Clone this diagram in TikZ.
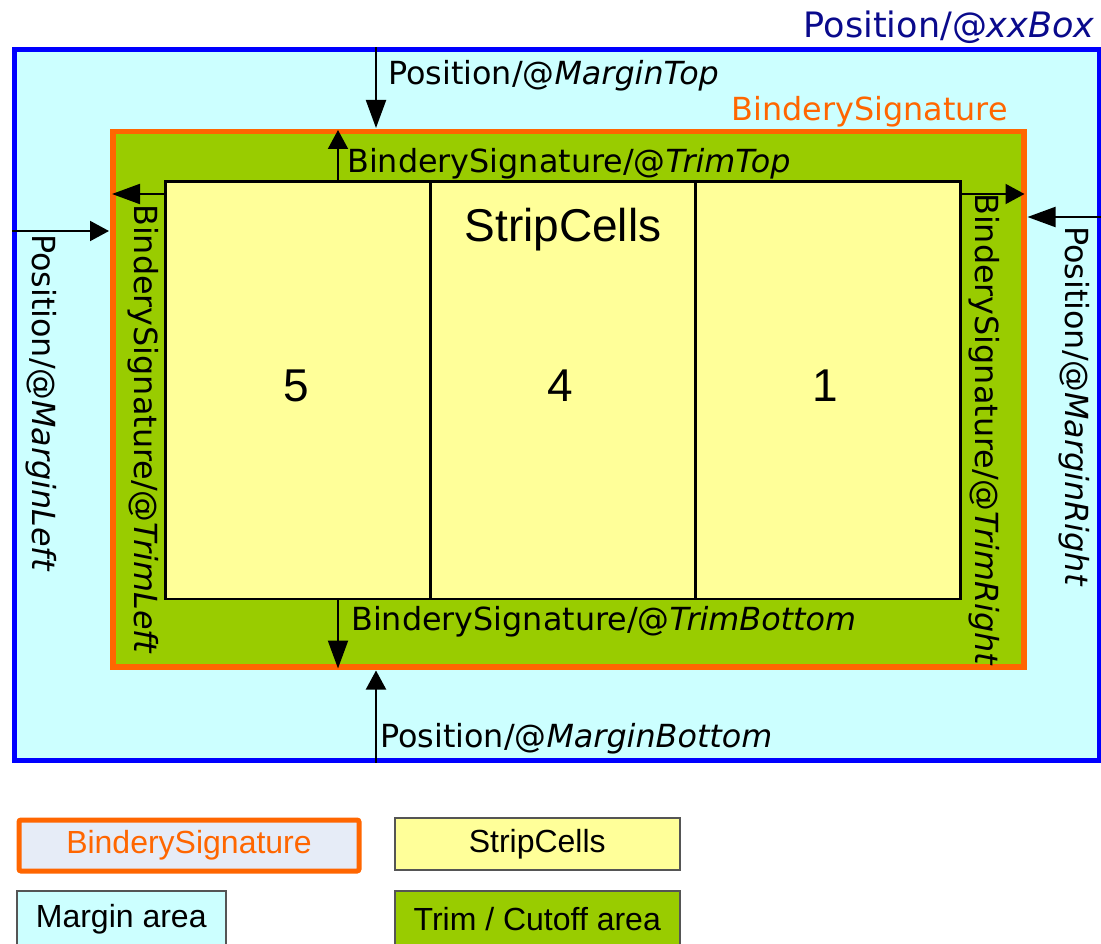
\documentclass[tikz,border=0pt]{standalone}
\usepackage{fontspec}
\setmainfont{DejaVu Sans}
\newfontfamily\arial{Liberation Sans}
\usetikzlibrary{arrows.meta}
\definecolor{mblue}{HTML}{0000FF}
\definecolor{mcyan}{HTML}{CCFFFF}
\definecolor{morange}{HTML}{FF6600}
\definecolor{mgreen}{HTML}{99CC00}
\definecolor{myellow}{HTML}{FFFF99}
\definecolor{mnavy}{HTML}{0A0A8C}
\definecolor{mlav}{HTML}{E6ECF7}
\definecolor{mgray}{HTML}{555555}
\begin{document}
\begin{tikzpicture}[x=1pt,y=-1pt,
  lbl/.style={font=\fontsize{31.8}{36}\selectfont, inner sep=0pt},
  dimlong/.style={line width=2pt, -{Triangle[length=28pt,width=20pt]}, shorten >=1pt},
  dimshort/.style={line width=2pt, -{Triangle[length=19pt,width=20pt]}, shorten >=1pt},
  cell/.style={draw=black, line width=2.5pt, fill=myellow, minimum width=265pt,
    minimum height=417pt, inner sep=0pt, anchor=north west},
  big/.style={font=\arial\fontsize{46}{50}\selectfont, inner sep=0pt},
  legbox/.style={draw=mgray, line width=1.5pt, minimum width=285pt, minimum height=52pt,
    inner sep=0pt, anchor=north west, font=\arial\fontsize{32}{36}\selectfont}]
\useasboundingbox (0,0) rectangle (1101,944);
\clip (0,0) rectangle (1101,944);
% outer position box
\node[draw=mblue, fill=mcyan, line width=5pt, minimum width=1085pt, minimum height=710pt,
  inner sep=0pt, anchor=north west] (box) at (12,47.5) {};
% bindery signature
\node[draw=morange, fill=mgreen, line width=5.5pt, minimum width=911pt, minimum height=535pt,
  inner sep=0pt, anchor=north west] (sig) at (110,129) {};
% strip cells
\node[cell] (c5) at (164,180.5) {};
\node[cell] (c4) at (429,180.5) {};
\node[cell] (c1) at (694,180.5) {};
\node[big] (n5) at (296,386) {5};
\node[big] (n4) at (560,386) {4};
\node[big] (n1) at (825,386) {1};
\node[big] (sc) at (563,230) {StripCells};
% titles
\node[lbl, font=\fontsize{35}{40}\selectfont, text=mnavy, anchor=base east] (tbox) at (1095,38) {Position/@\textit{xxBox}};
\node[lbl, text=morange, anchor=base east] (tsig) at (1008,121) {BinderySignature};
% helper coordinates
\coordinate (xm) at (376,0);
\coordinate (xt) at (338,0);
\coordinate (ytl) at (0,194);
\coordinate (yml) at (0,231);
\coordinate (ytr) at (0,194);
\coordinate (ymr) at (0,217);
% arrows
\draw[dimlong] (xm |- box.north) -- (xm |- sig.north);
\draw[dimshort] (xt |- c5.north) -- (xt |- sig.north);
\draw[dimlong, shorten >=2pt] (c5.west |- ytl) -- (sig.west |- ytl);
\draw[dimshort] (box.west |- yml) -- (sig.west |- yml);
\draw[dimshort, shorten >=2pt] (c1.east |- ytr) -- (sig.east |- ytr);
\draw[dimlong] (box.east |- ymr) -- (sig.east |- ymr);
\draw[dimlong] (xt |- c5.south) -- (xt |- sig.south);
\draw[dimshort] (xm |- box.south) -- (xm |- sig.south);
% labels
\node[lbl, anchor=base west] (lmt) at (388,85) {Position/@\textit{MarginTop}};
\node[lbl, anchor=base west] (ltt) at (347,173) {BinderySignature/@\textit{TrimTop}};
\node[lbl, anchor=base west] (ltb) at (351,630) {BinderySignature/@\textit{TrimBottom}};
\node[lbl, anchor=base west] (lmb) at (380,747) {Position/@\textit{MarginBottom}};
\node[lbl, rotate=-90, anchor=base west] (ltl) at (134,204) {BinderySignature/@\textit{TrimLeft}};
\node[lbl, rotate=-90, anchor=base west] (lml) at (32,234) {Position/@\textit{MarginLeft}};
\node[lbl, rotate=-90, anchor=base west] (ltr) at (975,193) {BinderySignature/@\textit{TrimRight}};
\node[lbl, rotate=-90, anchor=base west] (lmr) at (1065,226) {Position/@\textit{MarginRight}};
% legend
\node[legbox, draw=morange, line width=5pt, fill=mlav, rounded corners=2pt,
  minimum width=340pt, minimum height=51pt, text=morange] (lg1) at (16.5,817.5) {BinderySignature};
\node[legbox, fill=myellow] (lg2) at (394,817) {StripCells};
\node[legbox, fill=mcyan, minimum width=209pt, minimum height=56pt] (lg3) at (16,890) {Margin area};
\node[legbox, fill=mgreen, minimum height=56pt] (lg4) at (394,890) {Trim / Cutoff area};
\end{tikzpicture}
\end{document}
